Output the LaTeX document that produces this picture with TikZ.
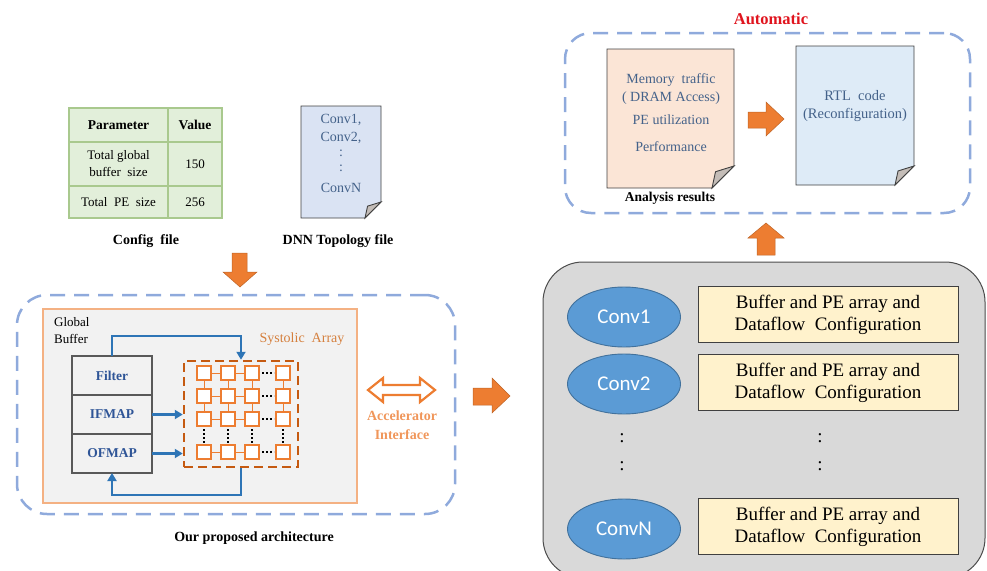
\documentclass[tikz,border=0pt]{standalone}
\usepackage{fontspec}
\setmainfont{Liberation Serif}
\newfontfamily\calibri{Carlito}
\usetikzlibrary{shapes.geometric,arrows.meta,calc}

\definecolor{dashblue}{HTML}{8FAADC}
\definecolor{tblfill}{HTML}{E2EFDA}
\definecolor{tblline}{HTML}{A9C98E}
\definecolor{doctext}{HTML}{44628A}
\definecolor{docblue}{HTML}{DAE3F3}
\definecolor{docpeach}{HTML}{FBE5D6}
\definecolor{rtlblue}{HTML}{DEEBF7}
\definecolor{foldgray}{HTML}{C4BDB8}
\definecolor{archline}{HTML}{F4B183}
\definecolor{archfill}{HTML}{F2F2F2}
\definecolor{bufline}{HTML}{595959}
\definecolor{buftext}{HTML}{2F5597}
\definecolor{flowblue}{HTML}{2E75B6}
\definecolor{peorange}{HTML}{ED7D31}
\definecolor{sadash}{HTML}{C55A11}
\definecolor{satext}{HTML}{D5803E}
\definecolor{ifacetext}{HTML}{F0965A}
\definecolor{panelgray}{HTML}{D9D9D9}
\definecolor{ellfill}{HTML}{5B9BD5}
\definecolor{ellline}{HTML}{41719C}
\definecolor{cfgfill}{HTML}{FFF2CC}
\definecolor{autored}{HTML}{E0141E}

\newcommand\fs[2]{\fontsize{#1}{#2}\selectfont}

% document outline with a folded bottom-right corner
\newcommand\foldeddoc[3]{%
  \draw[docline, fill=#3] (#1.north west) -- (#1.north east)
    -- ([yshift=#2]#1.south east) -- ([xshift=-#2]#1.south east)
    -- (#1.south west) -- cycle;
  \draw[docline, fill=foldgray] ([xshift=-#2]#1.south east)
    .. controls ([xshift=-0.9*#2, yshift=0.35*#2]#1.south east) ..
    ([xshift=-0.84*#2, yshift=0.74*#2]#1.south east)
    -- ([yshift=#2]#1.south east) -- cycle;}

\tikzset{
  groupbox/.style={draw=dashblue, line width=2.5pt, dash pattern=on 15pt off 9pt},
  cell/.style={draw=tblline, fill=tblfill, line width=1.2pt, inner sep=0pt,
    outer sep=0pt, align=center, font=\fs{13}{17}},
  docline/.style={draw=black!75, line width=0.9pt},
  docbody/.style={inner sep=0pt, outer sep=0pt},
  doclabel/.style={text=doctext, font=\fs{14}{17}},
  caption/.style={font=\bfseries\fs{14}{17}},
  bufcell/.style={draw=bufline, fill=archfill, line width=1.2pt, minimum width=80pt,
    minimum height=39pt, inner sep=0pt, outer sep=0pt, text=buftext,
    font=\bfseries\fs{13.5}{16}},
  pe/.style={draw=peorange, fill=white, line width=2.4pt, minimum size=14pt,
    inner sep=0pt, outer sep=0pt},
  pelink/.style={draw=peorange, line width=1pt},
  pedots/.style={draw=black, line width=1.6pt, dash pattern=on 1.6pt off 2.4pt},
  flow/.style={draw=flowblue, line width=2.2pt, -{Triangle[length=8pt,width=9pt]}},
  blockarrow/.style={fill=peorange, draw=peorange!80!black, line width=0.5pt},
  layer/.style={ellipse, draw=ellline, fill=ellfill, line width=0.9pt,
    minimum width=113pt, minimum height=60pt, text=white, font=\calibri\fs{21}{24}},
  cfgbox/.style={draw=black!75, fill=cfgfill, line width=1pt, minimum width=260pt,
    minimum height=56pt, inner sep=0pt, align=center, font=\fs{19}{22}},
  vdots/.style={font=\fs{19}{22}},
}

\begin{document}
\begin{tikzpicture}[x=1pt, y=-1pt]
\useasboundingbox (0,0) rectangle (987,570);

% ---------- config table ----------
\node[cell, minimum width=99pt, minimum height=34pt, font=\bfseries\fs{13.5}{17}] (ph) at (118.5,125) {Parameter};
\node[cell, minimum width=54pt, minimum height=34pt, font=\bfseries\fs{13.5}{17}] (vh) at (195,125) {Value};
\node[cell, minimum width=99pt, minimum height=44pt] (p1) at (118.5,164) {Total global\\buffer~ size};
\node[cell, minimum width=54pt, minimum height=44pt] (v1) at (195,164) {150};
\node[cell, minimum width=99pt, minimum height=32pt] (p2) at (118.5,202) {Total~ PE~ size};
\node[cell, minimum width=54pt, minimum height=32pt] (v2) at (195,202) {256};
\node[caption] (cfgcap) at (146,241) {Config~ file};

% ---------- DNN topology file ----------
\node[docbody, minimum width=80pt, minimum height=112pt] (dnn) at (341,162) {};
\foldeddoc{dnn}{16pt}{docblue}
\node[doclabel] (dl1) at (341,120) {Conv1,};
\node[doclabel] (dl2) at (341,138) {Conv2,};
\node[doclabel] (dl3) at (341,153) {:};
\node[doclabel] (dl4) at (341,168) {:};
\node[doclabel] (dl5) at (341,188) {ConvN};
\node[caption] (dnncap) at (338,241) {DNN Topology file};

% down arrow into the architecture
\draw[blockarrow] (232,253) -- (247,253) -- (247,272) -- (257,272) -- (240,287)
  -- (223,272) -- (232,272) -- cycle;

% ---------- proposed architecture ----------
\node[groupbox, rounded corners=30pt, minimum width=438pt, minimum height=219pt] (archgrp) at (236,404.5) {};
\node[draw=archline, fill=archfill, line width=2pt, minimum width=314pt, minimum height=194pt] (arch) at (200,406) {};
\node[anchor=north west, align=left, font=\fs{13}{17}, inner sep=0pt] (gbuf) at (54,317) {Global\\Buffer};

\node[bufcell] (filter) at (112,375.5) {Filter};
\node[bufcell] (ifmap) at (112,414.5) {IFMAP};
\node[bufcell] (ofmap) at (112,453.5) {OFMAP};

\node[text=satext, font=\fs{14}{17}] (satitle) at (302,339) {Systolic~ Array};
\node[draw=sadash, line width=2.5pt, dash pattern=on 9pt off 5pt, minimum width=114pt,
  minimum height=106pt, inner sep=0pt] (sa) at (241,414) {};

% processing elements
\foreach \c/\x in {1/204,2/228,3/252,4/283}{
  \foreach \r/\y in {1/373,2/396,3/419,4/452}{
    \node[pe] (pe-\c-\r) at (\x,\y) {};
  }
}
\foreach \r in {1,2,3,4}{
  \draw[pelink] (pe-1-\r) -- (pe-2-\r);
  \draw[pelink] (pe-2-\r) -- (pe-3-\r);
  \draw[pedots] ([xshift=3pt]pe-3-\r.east) -- ([xshift=-2pt]pe-4-\r.west);
}
\foreach \c in {1,2,3,4}{
  \draw[pelink] (pe-\c-1) -- (pe-\c-2);
  \draw[pelink] (pe-\c-2) -- (pe-\c-3);
  \draw[pedots] ([yshift=-3pt]pe-\c-3.south) -- ([yshift=2pt]pe-\c-4.north);
}

% data movement between buffer and array
\draw[flow] (filter.north) -- ++(0,-20) -| (sa.north);
\draw[flow] (ifmap.east) -- (ifmap.east -| sa.west);
\draw[flow] (ofmap.east) -- (ofmap.east -| sa.west);
\draw[flow] (sa.south) -- ++(0,27) -| (ofmap.south);

% accelerator interface
\draw[draw=peorange, fill=white, line width=2.2pt, line join=miter]
  (368,390) -- (383,378) -- (383,385) -- (420,385) -- (420,378) -- (435,390)
  -- (420,402) -- (420,395) -- (383,395) -- (383,402) -- cycle;
\node[text=ifacetext, font=\bfseries\fs{14}{19}, align=center] (iface) at (402,425) {Accelerator\\Interface};

\node[caption] (archcap) at (254,538) {Our proposed architecture};

% arrow to the per-layer configuration panel
\draw[blockarrow] (473,388) -- (492,388) -- (492,378) -- (510,396) -- (492,413)
  -- (492,405) -- (473,405) -- cycle;

% ---------- per-layer configuration ----------
\node[draw=black!70, fill=panelgray, line width=1pt, rounded corners=40pt,
  minimum width=442pt, minimum height=316pt] (panel) at (764,420) {};
\node[layer] (c1) at (624,317) {Conv1};
\node[layer] (c2) at (624,384) {Conv2};
\node[layer] (cn) at (624,529) {ConvN};
\node[cfgbox] (b1) at (828,314.5) {Buffer and PE array and\\Dataflow~ Configuration};
\node[cfgbox] (b2) at (828,382.5) {Buffer and PE array and\\Dataflow~ Configuration};
\node[cfgbox] (bn) at (828,526.5) {Buffer and PE array and\\Dataflow~ Configuration};
\node[vdots] (d1) at (622,438) {:};
\node[vdots] (d2) at (622,466) {:};
\node[vdots] (d3) at (820,438) {:};
\node[vdots] (d4) at (820,466) {:};

% arrow up to the automatic stage
\draw[blockarrow] (766,223) -- (784,238) -- (775,238) -- (775,255) -- (757,255)
  -- (757,238) -- (748,238) -- cycle;

% ---------- automatic stage ----------
\node[text=autored, font=\bfseries\fs{16.5}{19}] (auto) at (771,19) {Automatic};
\node[groupbox, rounded corners=26pt, minimum width=405pt, minimum height=180pt] (autogrp) at (767.5,123) {};

\node[docbody, minimum width=127pt, minimum height=139pt] (ana) at (670.5,118.5) {};
\foldeddoc{ana}{22pt}{docpeach}
\node[doclabel] (a1) at (671,80) {Memory~ traffic};
\node[doclabel] (a2) at (671,98) {( DRAM Access)};
\node[doclabel] (a3) at (671,120) {PE utilization};
\node[doclabel] (a4) at (671,147) {Performance};
\node[font=\bfseries\fs{13.5}{16}] (anacap) at (670,198) {Analysis results};

\draw[blockarrow] (748,112) -- (766,112) -- (766,102) -- (784,119) -- (766,136)
  -- (766,128) -- (748,128) -- cycle;

\node[docbody, minimum width=118pt, minimum height=139pt] (rtl) at (855,115.5) {};
\foldeddoc{rtl}{19pt}{rtlblue}
\node[doclabel, font=\fs{14.5}{18}, align=center] (rtltext) at (855,106) {RTL~ code\\(Reconfiguration)};

\end{tikzpicture}
\end{document}
